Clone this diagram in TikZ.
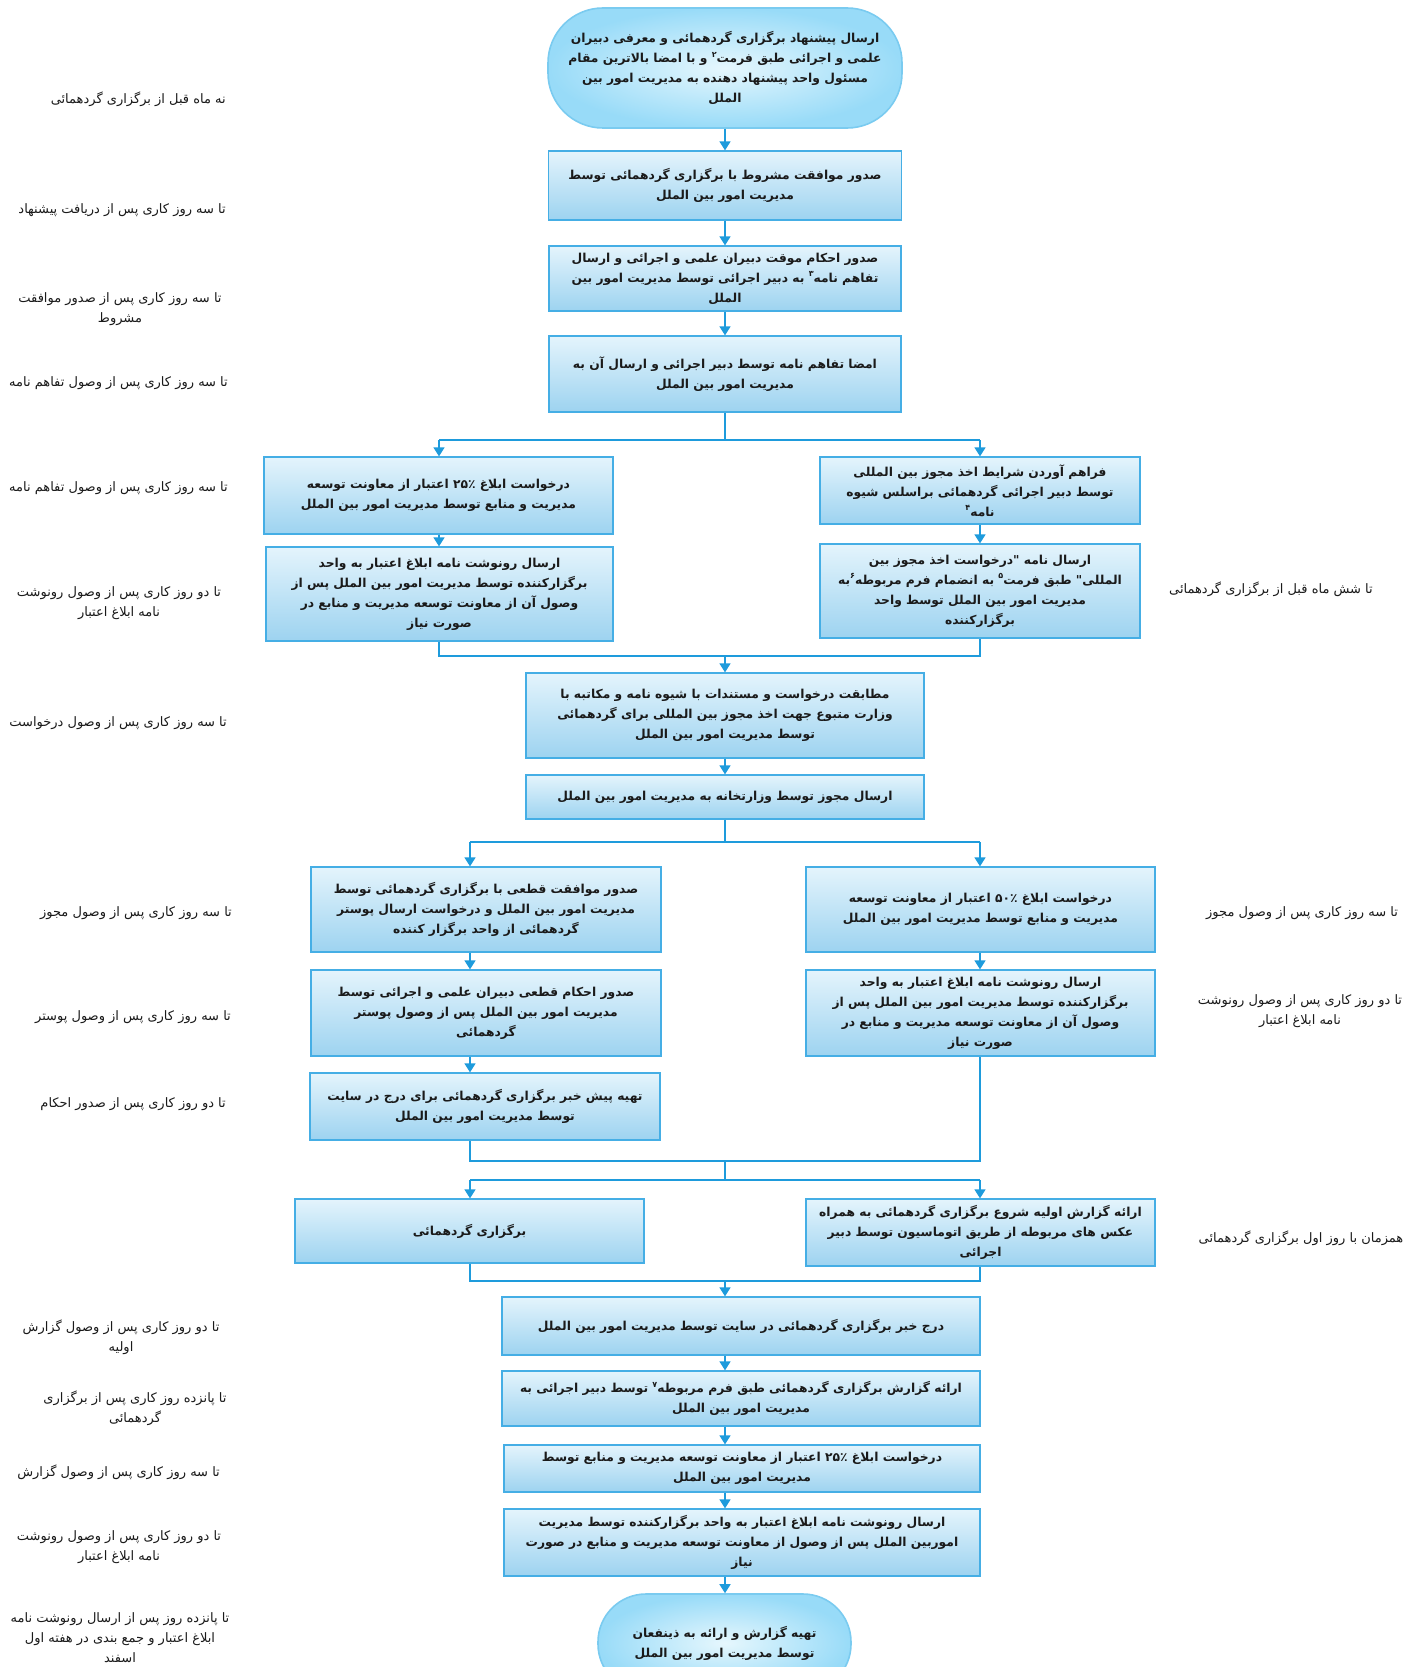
\documentclass[tikz,border=0pt]{standalone}
\usepackage{fontspec}
\usetikzlibrary{arrows.meta,shadings}
\TeXXeTstate=1
\newfontfamily\arabicfont[Script=Arabic]{DejaVu Sans}
\newcommand\pr[1]{\beginR #1\endR}
\newcommand\supn[1]{\raisebox{0.8ex}{\fontsize{8}{8}\selectfont #1}}
\definecolor{boxtop}{HTML}{E4F4FC}
\definecolor{boxbot}{HTML}{9DD3F0}
\definecolor{boxedge}{HTML}{45AEE5}
\definecolor{arrc}{HTML}{1E9BDC}
\definecolor{termin}{HTML}{E6F7FD}
\definecolor{termout}{HTML}{98DBF8}
\definecolor{termedge}{HTML}{7ACBF0}
\definecolor{txt}{HTML}{1A1A1A}
\tikzset{
  box/.style={draw=boxedge, line width=1.3pt, top color=boxtop, bottom color=boxbot,
    inner sep=2pt, align=center, text=txt,
    font=\arabicfont\bfseries\fontsize{12.3}{20}\selectfont},
  term/.style={draw=termedge, line width=1.6pt, rounded corners=55pt, inner color=termin,
    outer color=termout, inner sep=2pt, align=center, text=txt,
    font=\arabicfont\bfseries\fontsize{12.3}{20}\selectfont},
  lab/.style={align=center, text=txt, inner sep=0pt,
    font=\arabicfont\fontsize{13}{20}\selectfont},
  ln/.style={draw=arrc, line width=1.5pt},
  arr/.style={draw=arrc, line width=1.5pt, -{Triangle[width=11pt,length=9pt]}},
}
\begin{document}
\begin{tikzpicture}[x=1pt,y=-1pt]
\fill[white] (0,0) rectangle (1405,1667);
\useasboundingbox (0,0) rectangle (1405,1667);
\clip (0,0) rectangle (1405,1667);

% spine coordinates
\coordinate (sp) at (725,0);
\coordinate (lA) at (439,0);
\coordinate (rA) at (980,0);
\coordinate (lB) at (470,0);
\coordinate (j1) at (725,440);
\coordinate (j2) at (725,656);
\coordinate (j3) at (725,842);
\coordinate (j4) at (725,1161);
\coordinate (j5) at (725,1180);
\coordinate (j6) at (725,1281);

% boxes
\node[term, minimum width=354pt, minimum height=120pt] (b1) at (725,68)
 {\pr{ارسال پیشنهاد برگزاری گردهمائی و معرفی دبیران}\\
  \pr{علمی و اجرائی طبق فرمت\supn{۲} و  با امضا بالاترین مقام}\\
  \pr{مسئول واحد پیشنهاد دهنده به مدیریت امور بین}\\
  \pr{الملل}};
\node[box, minimum width=353pt, minimum height=69pt] (b2) at (725,185.5)
 {\pr{صدور موافقت مشروط با برگزاری گردهمائی توسط}\\
  \pr{مدیریت امور بین الملل}};
\node[box, minimum width=352pt, minimum height=65pt] (b3) at (725,278.5)
 {\pr{صدور احکام موقت دبیران علمی و اجرائی و ارسال}\\
  \pr{تفاهم نامه\supn{۳} به دبیر اجرائی  توسط مدیریت امور بین}\\
  \pr{الملل}};
\node[box, minimum width=352pt, minimum height=76pt] (b4) at (725,374)
 {\pr{امضا تفاهم نامه توسط  دبیر اجرائی و ارسال آن به}\\
  \pr{مدیریت امور بین الملل}};

\node[box, minimum width=349pt, minimum height=77pt] (b5l) at (438.5,495.5)
 {\pr{درخواست ابلاغ ۲۵٪ اعتبار  از معاونت توسعه}\\
  \pr{مدیریت و منابع توسط مدیریت امور بین الملل}};
\node[box, minimum width=320pt, minimum height=67pt] (b5r) at (980,490.5)
 {\pr{فراهم آوردن شرایط اخذ مجوز بین المللی}\\
  \pr{توسط دبیر اجرائی گردهمائی براسلس شیوه}\\
  \pr{نامه\supn{۴}}};
\node[box, minimum width=347pt, minimum height=94pt] (b6l) at (439.5,594)
 {\pr{ارسال رونوشت نامه ابلاغ اعتبار  به واحد}\\
  \pr{برگزارکننده توسط مدیریت امور بین الملل پس از}\\
  \pr{وصول آن از  معاونت توسعه مدیریت و منابع  در}\\
  \pr{صورت نیاز}};
\node[box, minimum width=320pt, minimum height=94pt] (b6r) at (980,591)
 {\pr{ارسال نامه "درخواست اخذ مجوز بین}\\
  \pr{المللی" طبق فرمت\supn{۵} به انضمام فرم مربوطه\supn{۶}به}\\
  \pr{مدیریت امور بین الملل توسط واحد}\\
  \pr{برگزارکننده}};

\node[box, minimum width=398pt, minimum height=85pt] (b7) at (725,715.5)
 {\pr{مطابقت درخواست و مستندات با شیوه نامه و مکاتبه با}\\
  \pr{وزارت متبوع جهت اخذ مجوز بین المللی برای گردهمائی}\\
  \pr{توسط  مدیریت امور بین الملل}};
\node[box, minimum width=398pt, minimum height=44pt] (b8) at (725,797)
 {\pr{ارسال مجوز توسط وزارتخانه به مدیریت امور بین الملل}};

\node[box, minimum width=350pt, minimum height=85pt] (b9l) at (486,909.5)
 {\pr{صدور موافقت قطعی با برگزاری گردهمائی  توسط}\\
  \pr{مدیریت امور بین الملل و درخواست ارسال پوستر}\\
  \pr{گردهمائی  از واحد برگزار کننده}};
\node[box, minimum width=349pt, minimum height=85pt] (b9r) at (980.5,909.5)
 {\pr{درخواست ابلاغ ۵۰٪ اعتبار  از معاونت توسعه}\\
  \pr{مدیریت و منابع توسط مدیریت امور بین الملل}};
\node[box, minimum width=350pt, minimum height=86pt] (b10l) at (486,1013)
 {\pr{صدور احکام قطعی دبیران علمی و اجرائی توسط}\\
  \pr{مدیریت امور بین الملل پس از وصول پوستر}\\
  \pr{گردهمائی}};
\node[box, minimum width=349pt, minimum height=86pt] (b10r) at (980.5,1013)
 {\pr{ارسال رونوشت نامه ابلاغ اعتبار  به واحد}\\
  \pr{برگزارکننده توسط مدیریت امور بین الملل پس از}\\
  \pr{وصول آن از  معاونت توسعه مدیریت و منابع  در}\\
  \pr{صورت نیاز}};
\node[box, minimum width=350pt, minimum height=67pt] (b11l) at (485,1106.5)
 {\pr{تهیه  پیش خبر برگزاری گردهمائی برای درج در سایت}\\
  \pr{توسط مدیریت  امور بین الملل}};

\node[box, minimum width=349pt, minimum height=64pt] (b12l) at (469.5,1231)
 {\pr{برگزاری گردهمائی}};
\node[box, minimum width=349pt, minimum height=67pt] (b12r) at (980.5,1232.5)
 {\pr{ارائه گزارش اولیه شروع برگزاری گردهمائی به همراه}\\
  \pr{عکس های مربوطه از طریق اتوماسیون توسط دبیر}\\
  \pr{اجرائی}};

\node[box, minimum width=478pt, minimum height=58pt] (b13) at (741,1326)
 {\pr{درج خبر برگزاری گردهمائی در سایت توسط مدیریت امور بین الملل}};
\node[box, minimum width=478pt, minimum height=55pt] (b14) at (741,1398.5)
 {\pr{ارائه گزارش برگزاری گردهمائی طبق فرم مربوطه\supn{۷} توسط دبیر اجرائی به}\\
  \pr{مدیریت امور بین الملل}};
\node[box, minimum width=476pt, minimum height=47pt] (b15) at (742,1468.5)
 {\pr{درخواست ابلاغ ۲۵٪ اعتبار  از معاونت توسعه مدیریت و منابع توسط}\\
  \pr{مدیریت امور بین الملل}};
\node[box, minimum width=476pt, minimum height=67pt] (b16) at (742,1542.5)
 {\pr{ارسال رونوشت نامه ابلاغ اعتبار  به واحد برگزارکننده توسط مدیریت}\\
  \pr{اموربین الملل پس از وصول از  معاونت توسعه مدیریت و منابع در صورت}\\
  \pr{نیاز}};
\node[term, rounded corners=48pt, minimum width=253pt, minimum height=98pt] (b17) at (724.5,1643)
 {\pr{تهیه گزارش و ارائه به ذینفعان}\\
  \pr{توسط مدیریت امور بین الملل}};

% connectors
\draw[arr] (b1.south) -- (b2.north);
\draw[arr] (b2.south) -- (b3.north);
\draw[arr] (b3.south) -- (b4.north);
\draw[ln] (b4.south) -- (j1);
\draw[ln] (j1 -| lA) -- (j1 -| rA);
\draw[arr] (j1 -| lA) -- (b5l.north -| lA);
\draw[arr] (j1 -| rA) -- (b5r.north -| rA);
\draw[arr] (b5l.south -| lA) -- (b6l.north -| lA);
\draw[arr] (b5r.south -| rA) -- (b6r.north -| rA);
\draw[ln] (b6l.south -| lA) -- (j2 -| lA) -- (j2 -| rA) -- (b6r.south -| rA);
\draw[arr] (j2) -- (b7.north -| sp);
\draw[arr] (b7.south -| sp) -- (b8.north -| sp);
\draw[ln] (b8.south -| sp) -- (j3);
\draw[ln] (j3 -| lB) -- (j3 -| rA);
\draw[arr] (j3 -| lB) -- (b9l.north -| lB);
\draw[arr] (j3 -| rA) -- (b9r.north -| rA);
\draw[arr] (b9l.south -| lB) -- (b10l.north -| lB);
\draw[arr] (b10l.south -| lB) -- (b11l.north -| lB);
\draw[arr] (b9r.south -| rA) -- (b10r.north -| rA);
\draw[ln] (b11l.south -| lB) -- (j4 -| lB) -- (j4 -| rA) -- (b10r.south -| rA);
\draw[ln] (j4) -- (j5);
\draw[ln] (j5 -| lB) -- (j5 -| rA);
\draw[arr] (j5 -| lB) -- (b12l.north -| lB);
\draw[arr] (j5 -| rA) -- (b12r.north -| rA);
\draw[ln] (b12l.south -| lB) -- (j6 -| lB) -- (j6 -| rA) -- (b12r.south -| rA);
\draw[arr] (j6) -- (b13.north -| sp);
\draw[arr] (b13.south -| sp) -- (b14.north -| sp);
\draw[arr] (b14.south -| sp) -- (b15.north -| sp);
\draw[arr] (b15.south -| sp) -- (b16.north -| sp);
\draw[arr] (b16.south -| sp) -- (b17.north -| sp);

% left labels
\node[lab, anchor=east] (l1) at (226,99) {\pr{نه ماه قبل از برگزاری گردهمائی}};
\node[lab, anchor=east] (l2) at (226,210) {\pr{تا سه روز کاری پس از دریافت پیشنهاد}};
\node[lab] (l3) at (120,309) {\pr{تا سه روز کاری پس از صدور موافقت}\\\pr{مشروط}};
\node[lab, anchor=east] (l4) at (228,383) {\pr{تا سه روز کاری پس از وصول تفاهم نامه}};
\node[lab, anchor=east] (l5) at (228,488) {\pr{تا سه روز کاری پس از وصول تفاهم نامه}};
\node[lab] (l6) at (119,603) {\pr{تا دو روز کاری پس از وصول رونوشت}\\\pr{نامه ابلاغ اعتبار}};
\node[lab, anchor=east] (l7) at (227,723) {\pr{تا سه روز کاری پس از وصول درخواست}};
\node[lab, anchor=east] (l8) at (232,913) {\pr{تا سه روز کاری پس از وصول مجوز}};
\node[lab, anchor=east] (l9) at (231,1017) {\pr{تا سه روز کاری پس از وصول پوستر}};
\node[lab, anchor=east] (l10) at (226,1104) {\pr{تا دو روز کاری پس از صدور احکام}};
\node[lab] (l11) at (121,1337) {\pr{تا دو روز کاری پس از وصول گزارش}\\\pr{اولیه}};
\node[lab] (l12) at (135,1408) {\pr{تا پانزده روز کاری پس از برگزاری}\\\pr{گردهمائی}};
\node[lab, anchor=east] (l13) at (220,1472) {\pr{تا سه روز کاری پس از وصول گزارش}};
\node[lab] (l14) at (119,1547) {\pr{تا دو روز کاری پس از وصول رونوشت}\\\pr{نامه ابلاغ اعتبار}};
\node[lab] (l15) at (120,1638) {\pr{تا پانزده روز پس از ارسال رونوشت نامه}\\\pr{ابلاغ اعتبار و جمع بندی در هفته اول}\\\pr{اسفند}};

% right labels
\node[lab] (r1) at (1271,589) {\pr{تا شش ماه قبل از برگزاری گردهمائی}};
\node[lab] (r2) at (1302,913) {\pr{تا سه روز کاری پس از وصول مجوز}};
\node[lab] (r3) at (1300,1011) {\pr{تا دو روز کاری پس از وصول رونوشت}\\\pr{نامه ابلاغ اعتبار}};
\node[lab] (r4) at (1301,1238) {\pr{همزمان با روز اول برگزاری گردهمائی}};
\end{tikzpicture}
\end{document}
